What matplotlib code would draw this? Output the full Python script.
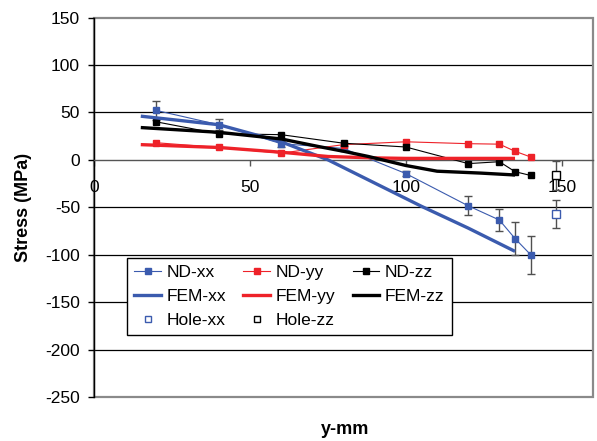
import matplotlib
matplotlib.use("Agg")
import matplotlib.pyplot as plt
from matplotlib.patches import Rectangle
from matplotlib.lines import Line2D

plt.rcParams['font.family'] = ['Liberation Sans', 'DejaVu Sans']
plt.rcParams['axes.unicode_minus'] = False

# Neutron diffraction measurements (y position in mm, stress in MPa)
nd_y = [20, 40, 60, 80, 100, 120, 130, 135, 140]
nd_xx = [52, 37, 17, 12, -14.5, -48.5, -63.5, -83, -100]
nd_xx_err = [10, 6, 3, 3, 3, 10, 12, 17, 20]
nd_yy = [18, 13, 7, 16, 19, 17, 16.5, 9, 3]
nd_zz = [40, 27.5, 26.5, 17.5, 13.5, -4, -2, -12.5, -16.5]

# Finite element predictions
fem_y = [15, 40, 60, 75, 90, 105, 120, 135]
fem_xx = [46, 37, 19, 0, -24.5, -49, -72, -96.5]
fem_y_yy = [15, 40, 60, 75, 90, 100, 135]
fem_yy = [16, 13, 8, 3.5, 2, 1.5, 1.5]
fem_y_zz = [15, 40, 60, 72, 80, 88, 100, 110, 124, 135]
fem_zz = [34, 29, 22, 14, 9, 3.5, -6, -12, -14, -16]

# Hole-drilling measurements
hole_y = [148]
hole_xx = [-57]
hole_xx_err = [15]
hole_zz = [-16.5]
hole_zz_err = [15]

y_ticks = [-250, -200, -150, -100, -50, 0, 50, 100, 150]
x_ticks = [0, 50, 100, 150]

BLUE = '#3B5BAE'
RED = '#EE2229'
BLACK = '#000000'
ERR = '#505050'

fig = plt.figure(figsize=(5.97, 4.41), dpi=100)
ax = fig.add_axes([94 / 597, 1 - 397 / 441, (593 - 94) / 597, (397 - 17.5) / 441])
ax.set_xlim(0, 160)
ax.set_ylim(-250, 150)

# horizontal gridlines
for v in y_ticks:
    if v not in (y_ticks[0], y_ticks[-1], 0):
        ax.axhline(v, color='black', lw=0.9, zorder=0.5)

# plot-area border
ax.add_patch(Rectangle((0, 0), 1, 1, transform=ax.transAxes, fill=False,
                       ec='#8A8A8A', lw=1.6, clip_on=False, zorder=0.6))

ax.spines['top'].set_visible(False)
ax.spines['right'].set_visible(False)
ax.spines['left'].set_color('black')
ax.spines['left'].set_linewidth(1.0)
ax.spines['bottom'].set_position(('data', 0))
ax.spines['bottom'].set_color('#555555')
ax.spines['bottom'].set_linewidth(1.0)

ax.set_yticks(y_ticks)
ax.set_xticks(x_ticks)
ax.tick_params(axis='y', direction='out', length=4.3, width=1, color='black',
               pad=5.8, labelsize=12.5)
ax.tick_params(axis='x', direction='out', length=4, width=1, color='#555555',
               pad=10.5, labelsize=12.5)

# ND lines
ax.errorbar(nd_y, nd_xx, yerr=nd_xx_err, fmt='none', ecolor=ERR, elinewidth=1,
            capsize=3, capthick=1, zorder=3)
ax.plot(nd_y, nd_xx, '-s', color=BLUE, lw=0.8, ms=4.2, zorder=4)
ax.plot(nd_y, nd_yy, '-s', color=RED, lw=0.8, ms=4.2, zorder=4)
ax.plot(nd_y, nd_zz, '-s', color=BLACK, lw=0.8, ms=4.2, zorder=4)

# FEM lines
ax.plot(fem_y, fem_xx, '-', color=BLUE, lw=2.4, zorder=5, solid_capstyle='butt')
ax.plot(fem_y_yy, fem_yy, '-', color=RED, lw=2.4, zorder=5, solid_capstyle='butt')
ax.plot(fem_y_zz, fem_zz, '-', color=BLACK, lw=2.4, zorder=5, solid_capstyle='butt')

# Hole drilling
ax.errorbar(hole_y, hole_xx, yerr=hole_xx_err, fmt='none', ecolor=ERR,
            elinewidth=1, capsize=3, capthick=1, zorder=3)
ax.errorbar(hole_y, hole_zz, yerr=hole_zz_err, fmt='none', ecolor=ERR,
            elinewidth=1, capsize=3, capthick=1, zorder=3)
ax.plot(hole_y, hole_xx, 's', mfc='white', mec=BLUE, mew=1, ms=5.5, zorder=6)
ax.plot(hole_y, hole_zz, 's', mfc='white', mec=BLACK, mew=1, ms=5.5, zorder=6)

handles = [
    Line2D([], [], color=BLUE, lw=0.8, marker='s', ms=4),
    Line2D([], [], color=BLUE, lw=2.4),
    Line2D([], [], ls='none', marker='s', mfc='white', mec=BLUE, mew=1, ms=5),
    Line2D([], [], color=RED, lw=0.8, marker='s', ms=4),
    Line2D([], [], color=RED, lw=2.4),
    Line2D([], [], ls='none', marker='s', mfc='white', mec=BLACK, mew=1, ms=5),
    Line2D([], [], color=BLACK, lw=0.8, marker='s', ms=4),
    Line2D([], [], color=BLACK, lw=2.4),
]
labels = ['ND-xx', 'FEM-xx', 'Hole-xx', 'ND-yy', 'FEM-yy', 'Hole-zz',
          'ND-zz', 'FEM-zz']
leg = fig.legend(handles, labels, ncol=3, loc='upper left',
                 bbox_to_anchor=(127 / 597, 1 - 258 / 441),
                 bbox_transform=fig.transFigure, borderaxespad=0,
                 fontsize=12.5, handlelength=1.55, handletextpad=0.3,
                 columnspacing=1.0, labelspacing=0.5, borderpad=0.42,
                 fancybox=False, framealpha=1, edgecolor='black')
leg.get_frame().set_linewidth(1.0)
leg.set_zorder(10)

fig.text(24 / 597, 1 - 207 / 441, 'Stress (MPa)', rotation=90, ha='center',
         va='center', fontsize=13, fontweight='bold')
fig.text(345 / 597, 1 - 430 / 441, 'y-mm', ha='center', va='center',
         fontsize=13, fontweight='bold')

fig.savefig('out.png', dpi=100)
